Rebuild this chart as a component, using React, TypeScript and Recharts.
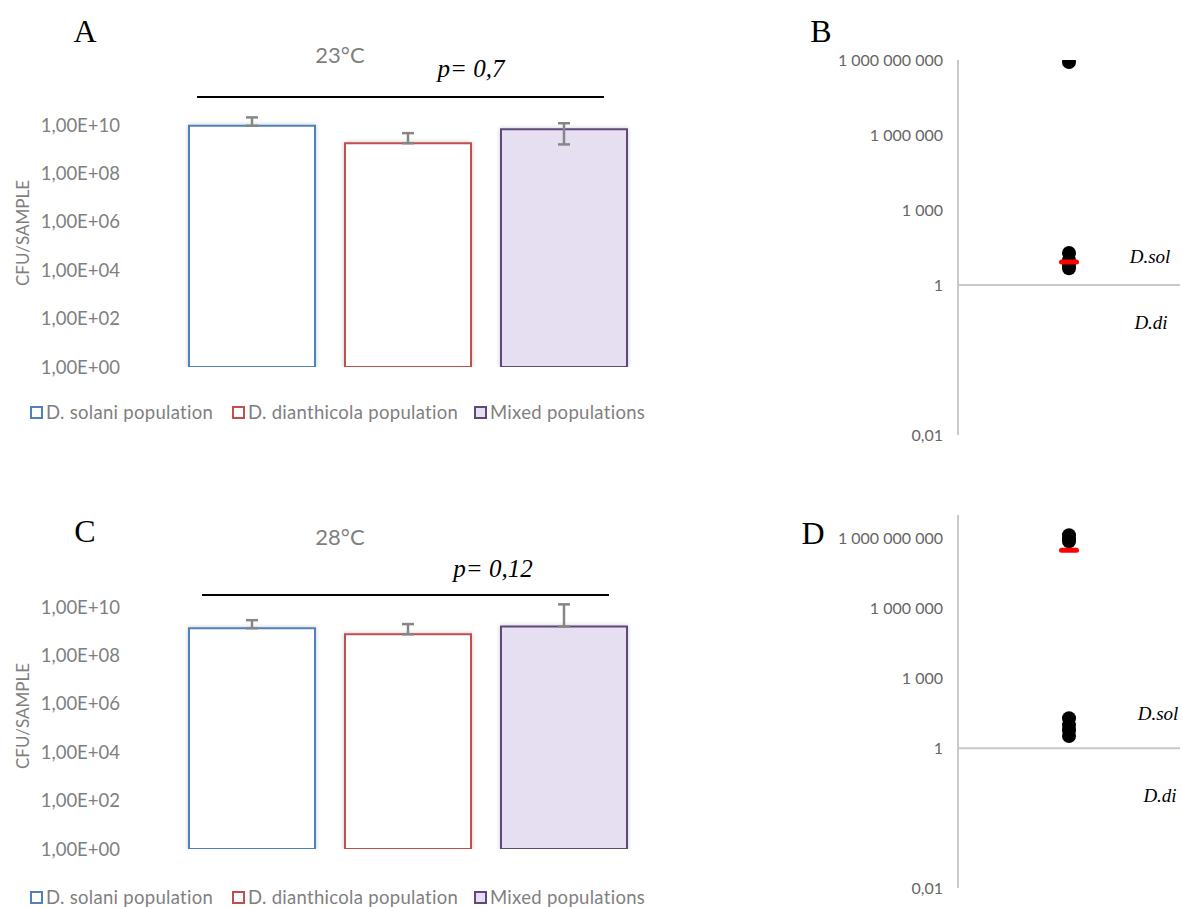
import type { CSSProperties, ReactNode } from "react";
import { Bar, BarChart, ErrorBar, ReferenceLine, Scatter, ScatterChart, XAxis, YAxis } from "recharts";

const populations = ["D. solani population", "D. dianthicola population", "Mixed populations"];
const seriesKeys = ["solani", "dianthicola", "mixed"];
const barStrokes = ["#4F81BD", "#C0504D", "#5F497A"];
const barFills = ["#FFFFFF", "#FFFFFF", "#E6DFF2"];

// mean CFU per sample and standard deviation, 23°C and 28°C
const cfu23 = [9.5e9, 1.8e9, 6.8e9];
const sd23 = [1.15e10, 2.9e9, 5.2e9];
const cfu28 = [1.35e9, 7.6e8, 1.6e9];
const sd28 = [1.55e9, 1.24e9, 1.15e10];
const barTicks = [1, 1e2, 1e4, 1e6, 1e8, 1e10];

// D.sol / D.di ratio per sample, with the median dash
const ratio23 = [8.3e8, 19, 10, 6.5, 4.7];
const ratio23Median = [8.3];
const ratio28 = [1.35e9, 9.1e8, 7.4e8, 19, 9.7, 5.9, 3.3];
const ratio28Median = [3.1e8];
const ratioTicks = [1e-6, 1, 1e3, 1e6, 1e9];
const ratioTickLabels = ["0,01", "1", "1 000", "1 000 000", "1 000 000 000"];

const sans = "Lato, 'Open Sans', sans-serif";
const serif = "'Liberation Serif', 'DejaVu Serif', serif";

function buildRows(means: number[], sds: number[]) {
  const row: Record<string, unknown> = { name: "" };
  seriesKeys.forEach((k, i) => {
    row[k] = means[i];
    // lower whisker is dropped when it would fall below zero on the log axis
    row[k + "Err"] = [sds[i] < means[i] ? sds[i] : 0, sds[i]];
  });
  return [row];
}

const sciLabel = (v: number) => "1,00E+" + String(Math.round(Math.log10(v))).padStart(2, "0");

function Txt({ x, y, style, children }: { x: number; y: number; style: CSSProperties; children: ReactNode }) {
  return (
    <div
      style={{
        position: "absolute",
        left: x,
        top: y,
        transform: "translate(-50%, -50%)",
        whiteSpace: "nowrap",
        lineHeight: 1,
        ...style,
      }}
    >
      {children}
    </div>
  );
}

function PopulationLegend({ top }: { top: number }) {
  const lefts = [30, 232, 474];
  return (
    <>
      {populations.map((name, i) => (
        <div
          key={name}
          style={{
            position: "absolute",
            left: lefts[i],
            top: top - 10,
            height: 20,
            display: "flex",
            alignItems: "center",
            fontFamily: sans,
            fontSize: 18.5,
            color: "#7f7f7f",
            whiteSpace: "nowrap",
            letterSpacing: 0.3,
          }}
        >
          <span
            style={{
              width: 9,
              height: 9,
              border: `2px solid ${barStrokes[i]}`,
              background: barFills[i],
              marginRight: 3,
              display: "inline-block",
            }}
          />
          {name}
        </div>
      ))}
    </>
  );
}

function PopulationChart({ top, means, sds, id }: { top: number; means: number[]; sds: number[]; id: string }) {
  const rows = buildRows(means, sds);
  return (
    <div style={{ position: "absolute", left: 0, top }}>
      <BarChart width={643} height={380} data={rows} margin={{ top: 101, right: 0, bottom: 13, left: 0 }} barGap={30}>
        <defs>
          <filter id={id} x="-10%" y="-10%" width="120%" height="120%">
            <feDropShadow dx="0" dy="0" stdDeviation="2" floodColor="#000" floodOpacity="0.22" />
          </filter>
        </defs>
        <XAxis dataKey="name" hide />
        <YAxis
          scale="log"
          domain={[1, 1e11]}
          allowDataOverflow
          ticks={barTicks}
          interval={0}
          tickFormatter={sciLabel}
          width={172}
          axisLine={false}
          tickLine={false}
          tickMargin={46}
          tick={{ fill: "#7f7f7f", fontSize: 18.5, fontFamily: sans }}
        />
        {seriesKeys.map((k, i) => (
          <Bar
            key={k}
            dataKey={k}
            barSize={126}
            fill={barFills[i]}
            stroke={barStrokes[i]}
            strokeWidth={2}
            filter={`url(#${id})`}
            isAnimationActive={false}
          >
            <ErrorBar dataKey={k + "Err"} direction="y" width={6} stroke="#868686" strokeWidth={2.5} />
          </Bar>
        ))}
      </BarChart>
    </div>
  );
}

function RatioChart({
  top,
  height,
  domain,
  points,
  median,
}: {
  top: number;
  height: number;
  domain: [number, number];
  points: number[];
  median: number[];
}) {
  const dots = points.map((y) => ({ x: 1, y }));
  const dash = median.map((y) => ({ x: 1, y }));
  return (
    <div style={{ position: "absolute", left: 800, top }}>
      <ScatterChart width={382} height={height} margin={{ top: 60, right: 2, bottom: 15, left: 0 }}>
        <XAxis type="number" dataKey="x" domain={[0, 2]} hide />
        <YAxis
          type="number"
          dataKey="y"
          scale="log"
          domain={domain}
          allowDataOverflow
          ticks={ratioTicks}
          interval={0}
          tickFormatter={(v: number) => ratioTickLabels[ratioTicks.indexOf(v)]}
          width={158}
          axisLine={{ stroke: "#c9c9c9", strokeWidth: 2 }}
          tickLine={false}
          tickMargin={9}
          tick={{ fill: "#666666", fontSize: 16, fontFamily: sans }}
        />
        <ReferenceLine y={1} stroke="#c9c9c9" strokeWidth={2} />
        <Scatter
          data={dots}
          isAnimationActive={false}
          shape={(p: any) => <circle cx={p.cx} cy={p.cy} r={7} fill="#000" />}
        />
        <Scatter
          data={dash}
          isAnimationActive={false}
          shape={(p: any) => <rect x={p.cx - 10} y={p.cy - 2.5} width={20} height={5} rx={2.5} fill="#ff0000" />}
        />
      </ScatterChart>
    </div>
  );
}

const letterStyle: CSSProperties = { fontFamily: serif, fontSize: 32, color: "#000" };
const titleStyle: CSSProperties = { fontFamily: sans, fontSize: 22, color: "#7f7f7f" };
const pStyle: CSSProperties = { fontFamily: serif, fontStyle: "italic", fontSize: 25, color: "#000" };
const speciesStyle: CSSProperties = { fontFamily: serif, fontStyle: "italic", fontSize: 19, color: "#000" };
const axisTitleStyle: CSSProperties = { fontFamily: sans, fontSize: 17, color: "#7f7f7f" };

function SigLine({ x1, x2, y }: { x1: number; x2: number; y: number }) {
  return <div style={{ position: "absolute", left: x1, top: y - 1, width: x2 - x1, height: 2, background: "#000" }} />;
}

export default function App() {
  return (
    <div style={{ position: "absolute", left: 0, top: 0, width: 1182, height: 907, background: "#fff", overflow: "hidden" }}>
      <PopulationChart top={0} means={cfu23} sds={sd23} id="shadowA" />
      <PopulationChart top={482} means={cfu28} sds={sd28} id="shadowC" />
      <RatioChart top={0} height={450} domain={[1e-6, 1e9]} points={ratio23} median={ratio23Median} />
      <RatioChart top={455} height={448} domain={[1e-6, 1e10]} points={ratio28} median={ratio28Median} />

      <Txt x={85} y={31} style={letterStyle}>A</Txt>
      <Txt x={340} y={55} style={titleStyle}>23°C</Txt>
      <Txt x={471} y={68} style={pStyle}>p= 0,7</Txt>
      <SigLine x1={197} x2={604} y={97} />
      <Txt x={22} y={233} style={{ ...axisTitleStyle, transform: "translate(-50%, -50%) rotate(-90deg)" }}>
        CFU/SAMPLE
      </Txt>
      <PopulationLegend top={412} />

      <Txt x={85} y={531} style={letterStyle}>C</Txt>
      <Txt x={340} y={537} style={titleStyle}>28°C</Txt>
      <Txt x={493} y={568} style={pStyle}>p= 0,12</Txt>
      <SigLine x1={202} x2={609} y={595} />
      <Txt x={22} y={716} style={{ ...axisTitleStyle, transform: "translate(-50%, -50%) rotate(-90deg)" }}>
        CFU/SAMPLE
      </Txt>
      <PopulationLegend top={897} />

      <Txt x={821} y={31} style={letterStyle}>B</Txt>
      <Txt x={1150} y={256} style={speciesStyle}>D.sol</Txt>
      <Txt x={1151} y={322} style={speciesStyle}>D.di</Txt>

      <Txt x={813} y={533} style={letterStyle}>D</Txt>
      <Txt x={1158} y={713} style={speciesStyle}>D.sol</Txt>
      <Txt x={1160} y={795} style={speciesStyle}>D.di</Txt>
    </div>
  );
}
